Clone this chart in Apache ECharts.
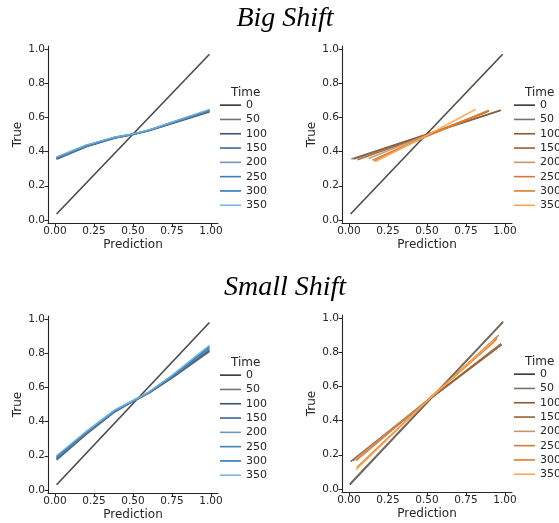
<!DOCTYPE html>
<html>
<head>
<meta charset="utf-8">
<script src="https://cdn.jsdelivr.net/npm/echarts@6/dist/echarts.min.js"></script>
<style>
  html, body { margin: 0; padding: 0; background: #fff; }
  #main { width: 559px; height: 523px; }
</style>
</head>
<body>
<div id="main"></div>
<script>
// times shown in legend
const times = ['0', '50', '100', '150', '200', '250', '300', '350'];
const xTicks = [0, 0.25, 0.5, 0.75, 1];
const yTicks = [0, 0.2, 0.4, 0.6, 0.8, 1];

// Big Shift, blue panel: [prediction, true]
const bigBlue0 = [[0.01, 0.035], [0.99, 0.97]];
const bigBlue50 = [[0.01, 0.355], [0.2, 0.428], [0.38, 0.478], [0.5, 0.5], [0.6, 0.522], [0.8, 0.578], [0.99, 0.632]];
const bigBlue100 = [[0.01, 0.358], [0.2, 0.43], [0.38, 0.48], [0.5, 0.5], [0.6, 0.522], [0.8, 0.58], [0.99, 0.635]];
const bigBlue150 = [[0.01, 0.36], [0.2, 0.432], [0.38, 0.48], [0.5, 0.501], [0.6, 0.523], [0.8, 0.582], [0.99, 0.638]];
const bigBlue200 = [[0.01, 0.362], [0.2, 0.433], [0.38, 0.481], [0.5, 0.501], [0.6, 0.524], [0.8, 0.584], [0.99, 0.64]];
const bigBlue250 = [[0.01, 0.364], [0.2, 0.435], [0.38, 0.482], [0.5, 0.502], [0.6, 0.525], [0.8, 0.585], [0.99, 0.642]];
const bigBlue300 = [[0.01, 0.366], [0.2, 0.436], [0.38, 0.483], [0.5, 0.502], [0.6, 0.525], [0.8, 0.586], [0.99, 0.644]];
const bigBlue350 = [[0.01, 0.368], [0.2, 0.438], [0.38, 0.484], [0.5, 0.503], [0.6, 0.526], [0.8, 0.588], [0.99, 0.646]];

// Big Shift, orange panel
const bigOrange0 = [[0.01, 0.035], [0.985, 0.97]];
const bigOrange50 = [[0.015, 0.356], [0.46, 0.49], [0.976, 0.644]];
const bigOrange100 = [[0.03, 0.356], [0.46, 0.488], [0.97, 0.64]];
const bigOrange150 = [[0.054, 0.352], [0.46, 0.484], [0.897, 0.638]];
const bigOrange200 = [[0.125, 0.36], [0.46, 0.482], [0.875, 0.628]];
const bigOrange250 = [[0.15, 0.35], [0.465, 0.478], [0.885, 0.635]];
const bigOrange300 = [[0.16, 0.345], [0.465, 0.476], [0.897, 0.642]];
const bigOrange350 = [[0.17, 0.342], [0.465, 0.478], [0.813, 0.648]];

// Small Shift, blue panel
const smallBlue0 = [[0.01, 0.03], [0.99, 0.98]];
const smallBlue50 = [[0.01, 0.175], [0.2, 0.325], [0.38, 0.455], [0.5, 0.518], [0.6, 0.566], [0.75, 0.655], [0.99, 0.81]];
const smallBlue100 = [[0.01, 0.18], [0.2, 0.328], [0.38, 0.457], [0.5, 0.519], [0.6, 0.567], [0.75, 0.658], [0.99, 0.816]];
const smallBlue150 = [[0.01, 0.184], [0.2, 0.331], [0.38, 0.459], [0.5, 0.52], [0.6, 0.568], [0.75, 0.661], [0.99, 0.822]];
const smallBlue200 = [[0.01, 0.188], [0.2, 0.334], [0.38, 0.461], [0.5, 0.52], [0.6, 0.569], [0.75, 0.663], [0.99, 0.828]];
const smallBlue250 = [[0.01, 0.192], [0.2, 0.336], [0.38, 0.462], [0.5, 0.521], [0.6, 0.57], [0.75, 0.665], [0.99, 0.834]];
const smallBlue300 = [[0.01, 0.196], [0.2, 0.339], [0.38, 0.464], [0.5, 0.522], [0.6, 0.571], [0.75, 0.667], [0.99, 0.84]];
const smallBlue350 = [[0.01, 0.2], [0.2, 0.342], [0.38, 0.466], [0.5, 0.523], [0.6, 0.572], [0.75, 0.67], [0.99, 0.846]];

// Small Shift, orange panel
const smallOrange0 = [[0.005, 0.025], [0.985, 0.975]];
const smallOrange50 = [[0.01, 0.035], [0.99, 0.98]];
const smallOrange100 = [[0.01, 0.16], [0.48, 0.5], [0.98, 0.845]];
const smallOrange150 = [[0.025, 0.165], [0.48, 0.5], [0.975, 0.85]];
const smallOrange200 = [[0.035, 0.17], [0.48, 0.502], [0.93, 0.86]];
const smallOrange250 = [[0.045, 0.165], [0.48, 0.5], [0.95, 0.88]];
const smallOrange300 = [[0.05, 0.125], [0.48, 0.498], [0.96, 0.9]];
const smallOrange350 = [[0.045, 0.112], [0.48, 0.497], [0.93, 0.87]];

const blueColors = ['#353535', '#737373', '#3c5670', '#3a6790', '#7397b8', '#3f7fb4', '#2e78b5', '#78b2de'];
const orangeColors = ['#3d3630', '#7d7165', '#8a5a34', '#9a5f2c', '#c4966b', '#cf7c38', '#e07a24', '#ffa552'];

const panels = [
    { key: 'tl', left: 48, top: 46, colors: blueColors,
      data: [bigBlue0, bigBlue50, bigBlue100, bigBlue150, bigBlue200, bigBlue250, bigBlue300, bigBlue350] },
    { key: 'tr', left: 342, top: 46, colors: orangeColors,
      data: [bigOrange0, bigOrange50, bigOrange100, bigOrange150, bigOrange200, bigOrange250, bigOrange300, bigOrange350] },
    { key: 'bl', left: 48, top: 316, colors: blueColors,
      data: [smallBlue0, smallBlue50, smallBlue100, smallBlue150, smallBlue200, smallBlue250, smallBlue300, smallBlue350] },
    { key: 'br', left: 342, top: 315, colors: orangeColors,
      data: [smallOrange0, smallOrange50, smallOrange100, smallOrange150, smallOrange200, smallOrange250, smallOrange300, smallOrange350] }
];

const ink = '#262626';
const font = 'DejaVu Sans';

const grid = [], xAxis = [], yAxis = [], series = [], legend = [];
const title = [
    { text: 'Big Shift', left: 280, top: 0, textAlign: 'center',
      textStyle: { fontFamily: 'Liberation Serif', fontStyle: 'italic', fontWeight: 'normal', fontSize: 28, color: '#000' } },
    { text: 'Small Shift', left: 280, top: 269, textAlign: 'center',
      textStyle: { fontFamily: 'Liberation Serif', fontStyle: 'italic', fontWeight: 'normal', fontSize: 28, color: '#000' } }
];

panels.forEach((p, i) => {
    grid.push({ left: p.left, top: p.top, width: 170, height: 177 });
    xAxis.push({
        type: 'value', gridIndex: i, min: -0.045, max: 1.045,
        name: 'Prediction', nameLocation: 'middle', nameGap: 16,
        nameTextStyle: { fontFamily: font, fontSize: 12, color: ink },
        splitLine: { show: false },
        axisLine: { show: true, onZero: false, lineStyle: { color: ink, width: 1.1 } },
        axisTick: { show: true, length: 3.5, customValues: xTicks, lineStyle: { color: ink } },
        axisLabel: { customValues: xTicks, margin: 3, fontFamily: font, fontSize: 10.5, color: ink,
                     formatter: v => v.toFixed(2) }
    });
    yAxis.push({
        type: 'value', gridIndex: i, min: -0.018, max: 1.018,
        name: 'True', nameLocation: 'middle', nameGap: 24,
        nameTextStyle: { fontFamily: font, fontSize: 12, color: ink },
        splitLine: { show: false },
        axisLine: { show: true, onZero: false, lineStyle: { color: ink, width: 1.1 } },
        axisTick: { show: true, length: 3.5, customValues: yTicks, lineStyle: { color: ink } },
        axisLabel: { customValues: yTicks, margin: 3, fontFamily: font, fontSize: 10.5, color: ink,
                     formatter: v => v.toFixed(1) }
    });
    const names = [];
    p.data.forEach((d, j) => {
        const name = p.key + '|' + times[j];
        names.push(name);
        series.push({
            name: name, type: 'line', xAxisIndex: i, yAxisIndex: i,
            data: d, showSymbol: false, silent: true,
            color: p.colors[j],
            lineStyle: { width: 1.6, color: p.colors[j], opacity: 0.9 }
        });
    });
    const legLeft = p.left + 172;
    title.push({
        text: 'Time', left: legLeft + 6, top: p.top + 36,
        textStyle: { fontFamily: font, fontSize: 12, fontWeight: 'normal', color: ink }
    });
    legend.push({
        data: names, orient: 'vertical', left: legLeft, top: p.top + 52,
        icon: 'rect', itemWidth: 21, itemHeight: 1.6, itemGap: 0, padding: 0,
        selectedMode: false,
        formatter: n => n.split('|')[1],
        textStyle: { fontFamily: font, fontSize: 11, color: ink, lineHeight: 14.3 }
    });
});

const chart = echarts.init(document.getElementById('main'), null, { renderer: 'canvas' });
chart.setOption({
    backgroundColor: '#fff',
    animation: false,
    title: title,
    grid: grid,
    xAxis: xAxis,
    yAxis: yAxis,
    legend: legend,
    series: series
});
</script>
</body>
</html>
